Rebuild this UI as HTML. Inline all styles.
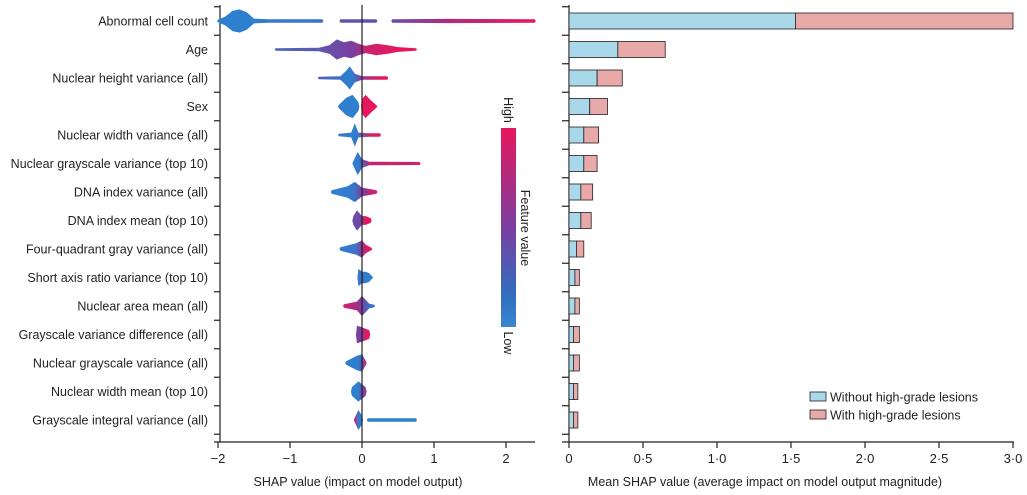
<!DOCTYPE html>
<html><head><meta charset="utf-8"><style>
body{margin:0;background:#fff;}
svg{display:block;font-family:"Liberation Sans",sans-serif;}
text{fill:#231f20;}
</style></head><body>
<svg id="chart" width="1027" height="495"></svg>
<script>
const features=["Abnormal cell count","Age","Nuclear height variance (all)","Sex","Nuclear width variance (all)","Nuclear grayscale variance (top 10)","DNA index variance (all)","DNA index mean (top 10)","Four-quadrant gray variance (all)","Short axis ratio variance (top 10)","Nuclear area mean (all)","Grayscale variance difference (all)","Nuclear grayscale variance (all)","Nuclear width mean (top 10)","Grayscale integral variance (all)"];
const meanWithout=[1.53,0.33,0.19,0.14,0.10,0.10,0.08,0.08,0.05,0.04,0.04,0.03,0.03,0.03,0.03];
const meanTotal=[3.0,0.65,0.36,0.26,0.20,0.19,0.16,0.15,0.10,0.07,0.07,0.07,0.07,0.06,0.06];
const shapTicks=[-2,-1,0,1,2];
const shapTickLabels=["−2","−1","0","1","2"];
const barTicks=[0,0.5,1,1.5,2,2.5,3];
const barTickLabels=["0","0·5","1·0","1·5","2·0","2·5","3·0"];
// beeswarm pieces: [ [shap, halfWidth, colourT(0 low..1 high)], ... ]
const swarm=[
 [[[-2.0,1,0],[-1.9,3,0],[-1.8,7,0],[-1.7,8,0],[-1.6,6,0],[-1.5,2,0],[-1.3,1.5,0.05],[-0.55,1.5,0.1]],[[-0.3,1.5,0.35],[0.2,1.5,0.35]],[[0.42,1.5,0.4],[1.2,1.8,0.75],[2.4,1.5,1]]],
 [[[-1.2,1,0.2],[-0.6,1.5,0.3],[-0.45,3,0.4],[-0.35,7,0.4],[-0.25,5,0.45],[-0.15,6,0.5],[-0.05,4,0.6],[0.05,2.5,0.85],[0.2,4,0.9],[0.35,3,0.95],[0.5,2,1],[0.75,1,1]]],
 [[[-0.6,1,0.2],[-0.3,1.5,0.1],[-0.22,5,0],[-0.17,8,0],[-0.1,3,0.1],[0,1.5,0.6],[0.2,1.5,0.9],[0.35,1.5,1]]],
 [[[-0.32,1.5,0],[-0.22,6,0],[-0.13,8,0],[-0.05,3,0]],[[0.0,5,1],[0.05,8,1],[0.13,4,1],[0.2,1,1]]],
 [[[-0.32,1,0.1],[-0.15,2,0],[-0.1,8,0],[-0.05,2,0.1],[0.1,1.5,0.9],[0.25,1.5,1]]],
 [[[-0.12,2,0],[-0.06,8,0],[0,3,0.2],[0.1,1.5,0.8],[0.8,1.2,0.9]]],
 [[[-0.42,1.5,0],[-0.2,4,0],[-0.1,7,0.1],[0,3,0.5],[0.2,1.5,1]]],
 [[[-0.12,3,0.4],[-0.07,7,0.4],[0,3,0.5],[0.05,3,1],[0.12,2,1]]],
 [[[-0.3,1.5,0],[-0.08,4,0.1],[0,6,0.6],[0.05,3,0.9],[0.13,1,1]]],
 [[[-0.05,6,0],[0,4,0.2],[0.05,4,0],[0.1,3,0],[0.14,1,0]]],
 [[[-0.25,1.5,0.9],[-0.07,3,0.7],[0,7,0.5],[0.1,2,0.1],[0.17,1,0]]],
 [[[-0.07,6,0.5],[0,5,0.5],[0.05,4,0.95],[0.1,3,1]]],
 [[[-0.22,1.5,0],[-0.07,5,0],[0,6,0.2],[0.05,2,0.9]]],
 [[[-0.14,3,0],[-0.05,7,0],[0,5,0.4],[0.05,3,0.6]]],
 [[[-0.1,2,0.9],[-0.05,7,0],[0,3,0]],[[0.08,1.5,0],[0.75,1.5,0]]]
];
const NS="http://www.w3.org/2000/svg";
const svg=document.getElementById('chart');
function mk(tag,attrs,parent){const e=document.createElementNS(NS,tag);for(const k in attrs)e.setAttribute(k,attrs[k]);(parent||svg).appendChild(e);return e;}
const rowY=i=>21+i*28.5;
const sx=v=>362+v*72;
const bx=v=>569+v*148;
const hs=h=>h>2?h*1.45:h*1.2;
const axisY=442;
const defs=mk('defs',{});
function col(t){const a=[47,127,207],m=[122,63,160],b=[232,23,93];let c;if(t<0.5){const u=t/0.5;c=a.map((x,i)=>x+(m[i]-x)*u);}else{const u=(t-0.5)/0.5;c=m.map((x,i)=>x+(b[i]-x)*u);}return `rgb(${c.map(Math.round).join(',')})`;}
features.forEach((f,i)=>{const t=mk('text',{x:208,y:rowY(i)+4.5,'text-anchor':'end','font-size':12.5});t.textContent=f;
});
let g=mk('g',{});
mk('line',{x1:220,y1:5,x2:220,y2:axisY,stroke:'#231f20','stroke-width':1.2},g);
mk('line',{x1:214,y1:axisY,x2:535,y2:axisY,stroke:'#231f20','stroke-width':1.2},g);
for(let i=0;i<=features.length;i++){const y=rowY(i)-14.25;mk('line',{x1:214,y1:y,x2:220,y2:y,stroke:'#231f20','stroke-width':1.2},g);}
shapTicks.forEach((v,i)=>{mk('line',{x1:sx(v),y1:axisY,x2:sx(v),y2:axisY+6,stroke:'#231f20','stroke-width':1.2},g);
const t=mk('text',{x:sx(v),y:axisY+21,'text-anchor':'middle','font-size':13},g);t.textContent=shapTickLabels[i];});
let t=mk('text',{x:358,y:486,'text-anchor':'middle','font-size':12.5});t.textContent="SHAP value (impact on model output)";

swarm.forEach((pieces,i)=>{const y=rowY(i);pieces.forEach((p,j)=>{
 const id='gr'+i+'_'+j;const lg=mk('linearGradient',{id:id,gradientUnits:'userSpaceOnUse',x1:sx(p[0][0]),x2:sx(p[p.length-1][0]),y1:0,y2:0},defs);
 const span=(p[p.length-1][0]-p[0][0])||1;
 p.forEach(k=>mk('stop',{offset:((k[0]-p[0][0])/span),'stop-color':col(k[2])},lg));
 let d='M'+(sx(p[0][0])-1)+','+y;
 p.forEach(k=>d+=' L'+sx(k[0])+','+(y-hs(k[1])));
 d+=' L'+(sx(p[p.length-1][0])+1)+','+y;
 for(let k=p.length-1;k>=0;k--)d+=' L'+sx(p[k][0])+','+(y+hs(p[k][1]));
 const path=mk('path',{d:d+'Z',fill:'url(#'+id+')'});
 
 
});});
mk('line',{x1:362,y1:5,x2:362,y2:axisY,stroke:'#231f20','stroke-width':1.2});
const cg=mk('linearGradient',{id:'cbar',x1:0,y1:0,x2:0,y2:1},defs);
mk('stop',{offset:0,'stop-color':'#e8175d'},cg);mk('stop',{offset:0.5,'stop-color':'#7a3fa0'},cg);mk('stop',{offset:0.85,'stop-color':'#2f6fc0'},cg);mk('stop',{offset:1,'stop-color':'#3a86d0'},cg);
const cb=mk('rect',{x:501,y:128,width:15,height:199,fill:'url(#cbar)'});

[['High',110],['Low',343],['Feature value',228]].forEach(([s,y])=>{const x=s==='Feature value'?521:504;const tt=mk('text',{x:x,y:y,'text-anchor':'middle','font-size':12.5,transform:`rotate(90 ${x} ${y})`});tt.textContent=s;
});
let g2=mk('g',{});
mk('line',{x1:569,y1:5,x2:569,y2:axisY,stroke:'#231f20','stroke-width':1.2},g2);
mk('line',{x1:562,y1:axisY,x2:1014,y2:axisY,stroke:'#231f20','stroke-width':1.2},g2);
for(let i=0;i<=features.length;i++){const y=rowY(i)-14.25;mk('line',{x1:562,y1:y,x2:569,y2:y,stroke:'#231f20','stroke-width':1.2},g2);}
barTicks.forEach((v,i)=>{mk('line',{x1:bx(v),y1:axisY,x2:bx(v),y2:axisY+6,stroke:'#231f20','stroke-width':1.2},g2);
const tt=mk('text',{x:bx(v),y:axisY+21,'text-anchor':'middle','font-size':13},g2);tt.textContent=barTickLabels[i];});
t=mk('text',{x:765,y:486,'text-anchor':'middle','font-size':12.5});t.textContent="Mean SHAP value (average impact on model output magnitude)";

features.forEach((f,i)=>{const y=rowY(i)-8;
 const r1=mk('rect',{x:bx(0),y:y,width:bx(meanWithout[i])-bx(0),height:16,fill:'#a8d8ea',stroke:'#231f20','stroke-width':0.8});
 
 const r2=mk('rect',{x:bx(meanWithout[i]),y:y,width:bx(meanTotal[i])-bx(meanWithout[i]),height:16,fill:'#e8aaa8',stroke:'#231f20','stroke-width':0.8});
 
});
const lgd=mk('g',{});
[['Without high-grade lesions','#a8d8ea',397],['With high-grade lesions','#e8aaa8',415]].forEach(([s,c,y])=>{
 mk('rect',{x:810,y:y-5,width:16,height:9,fill:c,stroke:'#231f20','stroke-width':0.8},lgd);
 const tt=mk('text',{x:830,y:y+4.5,'font-size':12.5},lgd);tt.textContent=s;});
</script>
</body></html>
